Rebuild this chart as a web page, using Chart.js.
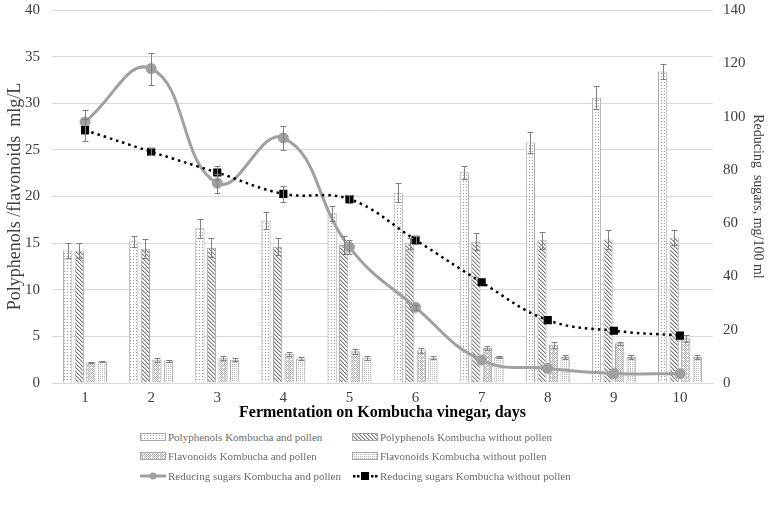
<!DOCTYPE html>
<html lang="en">
<head>
<meta charset="UTF-8" />
<title>Kombucha vinegar: polyphenols, flavonoids and reducing sugars</title>
<script src="https://cdn.jsdelivr.net/npm/chart.js@4"></script>
<style>
  body { margin: 0; background: #fff; }
  #wrap { position: relative; width: 772px; height: 510px; overflow: hidden; }
  #myChart { position: absolute; left: 0; top: 0; }
  .item { position: absolute; height: 20px; display: flex; align-items: center;
          font: 11px "Liberation Serif", serif; color: #6b6b6b; white-space: nowrap; }
  .item canvas { margin-right: 2px; }
</style>
</head>
<body>
<div id="wrap">
  <canvas id="myChart" width="772" height="425"></canvas>
  <div id="legend"></div>
</div>
<script>
// values
const days = ['1', '2', '3', '4', '5', '6', '7', '8', '9', '10'];

const polyPollen     = [14.2, 15.2, 16.6, 17.4, 18.2, 20.4, 22.6, 25.8, 30.6, 33.4];
const polyPollenErr  = [0.8, 0.6, 1.0, 0.9, 0.8, 1.0, 0.7, 1.1, 1.2, 0.8];
const polyNoPollen    = [14.2, 14.4, 14.5, 14.6, 14.8, 15.0, 15.15, 15.3, 15.4, 15.6];
const polyNoPollenErr = [0.8, 1.0, 1.0, 0.9, 1.0, 0.6, 0.9, 0.9, 1.0, 0.8];
const flavPollen     = [2.2, 2.5, 2.7, 3.1, 3.4, 3.5, 3.75, 4.1, 4.25, 4.8];
const flavPollenErr  = [0.1, 0.2, 0.2, 0.2, 0.25, 0.3, 0.2, 0.3, 0.2, 0.4];
const flavNoPollen    = [2.3, 2.4, 2.5, 2.6, 2.7, 2.7, 2.8, 2.8, 2.8, 2.8];
const flavNoPollenErr = [0.1, 0.1, 0.15, 0.15, 0.2, 0.15, 0.1, 0.25, 0.25, 0.25];

// reducing sugars, mg/100 ml (right axis)
const sugarPollen     = [98, 118, 75, 92, 51, 28.4, 8.6, 5.5, 3.6, 3.5];
const sugarPollenErr  = [4.6, 6, 3.5, 4.5, 2.5, 1, 0, 0, 0, 0];
const sugarNoPollen    = [94.9, 86.8, 79, 71, 69, 53.7, 37.8, 23.6, 19.6, 17.8];
const sugarNoPollenErr = [4.2, 1.4, 2.5, 3, 1.4, 1.5, 0, 0, 0, 0];

const serif = '"Liberation Serif", serif';

// little excel-like fill patterns
function makePattern(kind) {
  const c = document.createElement('canvas');
  const n = kind === 'dots' ? 3 : 4;
  c.width = n; c.height = n;
  const g = c.getContext('2d');
  g.fillStyle = '#fff';
  g.fillRect(0, 0, n, n);
  if (kind === 'dots') {
    g.fillStyle = '#9a9a9a';
    g.fillRect(1, 1, 1, 1);
  } else if (kind === 'hatch') {
    g.fillStyle = '#7a7a7a';
    for (let i = 0; i < 4; i++) g.fillRect(i, i, 1, 1);
    g.fillStyle = '#c4c4c4';
    for (let i = 0; i < 4; i++) g.fillRect((i + 1) % 4, i, 1, 1);
  } else if (kind === 'checker') {
    g.fillStyle = '#a8a8a8';
    g.fillRect(0, 0, 1, 1); g.fillRect(2, 0, 1, 1);
    g.fillRect(1, 1, 1, 1); g.fillRect(3, 1, 1, 1);
    g.fillRect(0, 2, 1, 1); g.fillRect(2, 2, 1, 1);
    g.fillRect(1, 3, 1, 1);
  } else {
    g.fillStyle = '#b4b4b4';
    g.fillRect(0, 0, 1, 1); g.fillRect(2, 0, 1, 1);
    g.fillRect(0, 2, 1, 1); g.fillRect(2, 2, 1, 1);
  }
  return g.createPattern(c, 'repeat');
}

const pats = {
  dots: makePattern('dots'),
  hatch: makePattern('hatch'),
  checker: makePattern('checker'),
  grid: makePattern('grid')
};

const errorBars = {
  id: 'errorBars',
  afterDatasetsDraw(chart) {
    const ctx = chart.ctx;
    chart.data.datasets.forEach((ds, i) => {
      if (!ds.err) return;
      const meta = chart.getDatasetMeta(i);
      const scale = chart.scales[meta.yAxisID];
      ctx.save();
      ctx.strokeStyle = '#808080';
      ctx.lineWidth = 1;
      meta.data.forEach((el, j) => {
        const e = ds.err[j];
        if (!e) return;
        const v = ds.data[j];
        const x = Math.round(el.x) + 0.5;
        const y1 = Math.round(scale.getPixelForValue(v + e)) + 0.5;
        const y2 = Math.round(scale.getPixelForValue(v - e)) + 0.5;
        ctx.beginPath();
        ctx.moveTo(x, y1); ctx.lineTo(x, y2);
        ctx.moveTo(x - 3, y1); ctx.lineTo(x + 3, y1);
        ctx.moveTo(x - 3, y2); ctx.lineTo(x + 3, y2);
        ctx.stroke();
      });
      ctx.restore();
    });
  }
};

function bar(label, data, err, pat) {
  return {
    type: 'bar', label, data, err,
    yAxisID: 'y', order: 2,
    backgroundColor: pats[pat],
    borderColor: '#a6a6a6', borderWidth: 1,
    barPercentage: 0.8, categoryPercentage: 0.7
  };
}

// keep the plot area where the original has it
function fixY(width) {
  return s => { s.width = width; s.paddingTop = 10; s.paddingBottom = 0; };
}

const ctx = document.getElementById('myChart').getContext('2d');
new Chart(ctx, {
  type: 'bar',
  data: {
    labels: days,
    datasets: [
      bar('Polyphenols Kombucha and pollen', polyPollen, polyPollenErr, 'dots'),
      bar('Polyphenols Kombucha without pollen', polyNoPollen, polyNoPollenErr, 'hatch'),
      bar('Flavonoids Kombucha and pollen', flavPollen, flavPollenErr, 'checker'),
      bar('Flavonoids Kombucha without pollen', flavNoPollen, flavNoPollenErr, 'grid'),
      {
        type: 'line', label: 'Reducing sugars Kombucha and pollen',
        data: sugarPollen, err: sugarPollenErr, yAxisID: 'y2', order: 1,
        borderColor: '#a0a0a0', borderWidth: 3, tension: 0.45,
        pointRadius: 4, pointBackgroundColor: '#a0a0a0', pointBorderColor: '#a0a0a0'
      },
      {
        type: 'line', label: 'Reducing sugars Kombucha without pollen',
        data: sugarNoPollen, err: sugarNoPollenErr, yAxisID: 'y2', order: 0,
        borderColor: '#000', borderWidth: 2.5, borderDash: [2.5, 4], tension: 0.4,
        pointStyle: 'rect', pointRadius: 4,
        pointBackgroundColor: '#000', pointBorderColor: '#000'
      }
    ]
  },
  options: {
    responsive: false,
    animation: false,
    layout: { padding: { top: 10, left: 0, right: 0, bottom: 0 } },
    plugins: { legend: { display: false }, tooltip: { enabled: false } },
    scales: {
      x: {
        grid: { display: false, drawTicks: false },
        border: { color: '#d9d9d9' },
        ticks: { padding: 6, color: '#404040', font: { family: serif, size: 15 } },
        title: { display: true, text: 'Fermentation on Kombucha vinegar, days',
                 color: '#000', padding: { top: 0, bottom: 3 },
                 font: { family: serif, size: 16, weight: 'bold' } },
        afterFit: s => { s.height = 42; }
      },
      y: {
        min: 0, max: 40,
        ticks: { stepSize: 5, padding: 12, color: '#404040', font: { family: serif, size: 15 } },
        grid: { color: '#d9d9d9', drawTicks: false },
        border: { display: false },
        title: { display: true, text: 'Polyphenols /flavonoids  mlg/L', color: '#404040',
                 padding: { top: 4, bottom: 0 }, font: { family: serif, size: 18 } },
        afterFit: fixY(52)
      },
      y2: {
        position: 'right', min: 0, max: 140,
        ticks: { stepSize: 20, padding: 10, color: '#404040', font: { family: serif, size: 15 } },
        grid: { drawOnChartArea: false, drawTicks: false },
        border: { display: false },
        title: { display: true, text: 'Reducing  sugars, mg/100 ml', color: '#404040',
                 padding: { top: 6, bottom: 0 }, font: { family: serif, size: 14 } },
        afterFit: fixY(59)
      }
    }
  },
  plugins: [errorBars]
});

// legend in two columns like the original
const legendItems = [
  { text: 'Polyphenols Kombucha and pollen', kind: 'dots', x: 140, y: 437 },
  { text: 'Polyphenols Kombucha without pollen', kind: 'hatch', x: 352, y: 437 },
  { text: 'Flavonoids Kombucha and pollen', kind: 'checker', x: 140, y: 456 },
  { text: 'Flavonoids Kombucha without pollen', kind: 'grid', x: 352, y: 456 },
  { text: 'Reducing sugars Kombucha and pollen', kind: 'solid', x: 140, y: 476 },
  { text: 'Reducing sugars Kombucha without pollen', kind: 'dotted', x: 352, y: 476 }
];

const legendBox = document.getElementById('legend');
legendItems.forEach(it => {
  const d = document.createElement('div');
  d.className = 'item';
  d.style.left = it.x + 'px';
  d.style.top = (it.y - 10) + 'px';
  const c = document.createElement('canvas');
  c.width = 26; c.height = 12;
  const g = c.getContext('2d');
  if (it.kind === 'solid') {
    g.strokeStyle = '#a0a0a0'; g.lineWidth = 3;
    g.beginPath(); g.moveTo(0, 6); g.lineTo(26, 6); g.stroke();
    g.fillStyle = '#a0a0a0';
    g.beginPath(); g.arc(13, 6, 3.5, 0, Math.PI * 2); g.fill();
  } else if (it.kind === 'dotted') {
    g.fillStyle = '#000';
    [1, 5, 19, 23].forEach(x => g.fillRect(x, 5, 2.5, 2.5));
    g.fillRect(9, 2, 8, 8);
  } else {
    g.fillStyle = pats[it.kind];
    g.fillRect(0.5, 2.5, 25, 7);
    g.strokeStyle = '#a6a6a6'; g.lineWidth = 1;
    g.strokeRect(0.5, 2.5, 25, 7);
  }
  d.appendChild(c);
  d.appendChild(document.createTextNode(it.text));
  legendBox.appendChild(d);
});
</script>
</body>
</html>
